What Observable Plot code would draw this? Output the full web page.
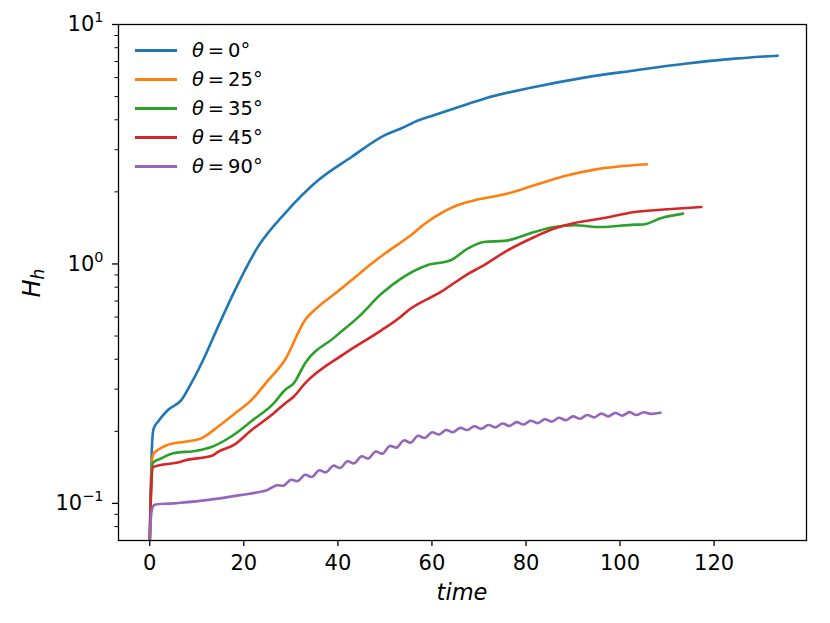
<!DOCTYPE html>
<html>
<head>
<meta charset="utf-8">
<script src="https://cdn.jsdelivr.net/npm/d3@7"></script>
<script src="https://cdn.jsdelivr.net/npm/@observablehq/plot@0.6"></script>
<style>
  body { margin: 0; background: white; }
  #wrap { position: relative; width: 830px; height: 623px; font-family: "DejaVu Sans", sans-serif; }
  #legend { position: absolute; left: 135px; top: 36px; font-size: 19.5px; color: black; }
  #legend .row { display: flex; align-items: center; height: 29px; }
  #legend .sw { width: 42px; height: 2.6px; margin-right: 15px; }
</style>
</head>
<body>
<div id="wrap"><div id="legend"></div></div>
<script>
// ---- data ----
const seriesNames = ["θ = 0°", "θ = 25°", "θ = 35°", "θ = 45°", "θ = 90°"];
const seriesColors = ["#1f77b4", "#ff7f0e", "#2ca02c", "#d62728", "#9467bd"];

const t0 = [0, 0.2, 0.4, 0.7, 1.0, 1.7, 3.8, 6.7, 8.8, 12, 14.5, 18.1, 23, 28.7, 35.8, 42.9, 50, 53.3, 57.2, 60.4, 67.8, 71.1, 81.8, 92.4, 103.1, 113.8, 124.4, 133.5];
const h0 = [0.07, 0.11, 0.16, 0.20, 0.209, 0.219, 0.245, 0.270, 0.317, 0.423, 0.546, 0.776, 1.178, 1.623, 2.236, 2.797, 3.45, 3.67, 3.98, 4.18, 4.67, 4.90, 5.48, 6.00, 6.43, 6.86, 7.20, 7.41];

const t25 = [0, 0.3, 0.7, 1.7, 3.6, 7.4, 10.7, 14.5, 18.1, 21.6, 25.2, 28.7, 33, 35.8, 39.4, 42.9, 47.2, 50, 55, 59, 65.4, 69.7, 75.4, 81.8, 88.9, 94.6, 105.7];
const h25 = [0.07, 0.125, 0.16, 0.167, 0.175, 0.181, 0.186, 0.209, 0.2375, 0.270, 0.327, 0.396, 0.582, 0.662, 0.752, 0.855, 1.004, 1.105, 1.296, 1.497, 1.758, 1.857, 1.954, 2.13, 2.345, 2.477, 2.607];

const t35 = [0, 0.3, 0.7, 2.4, 5, 10, 13.1, 17.8, 21.8, 26.3, 28.7, 30.6, 33, 39.4, 44.4, 49.3, 53.5, 59, 64, 67.6, 71.1, 75.4, 81.8, 86, 90.3, 96, 103.1, 104.9, 108.8, 113.4];
const h35 = [0.07, 0.12, 0.148, 0.154, 0.162, 0.166, 0.172, 0.193, 0.222, 0.261, 0.297, 0.317, 0.384, 0.496, 0.601, 0.752, 0.871, 0.988, 1.036, 1.159, 1.236, 1.248, 1.36, 1.426, 1.45, 1.426, 1.459, 1.462, 1.556, 1.623];

const t45 = [0, 0.3, 0.7, 6.4, 7.4, 13.5, 14.5, 17.8, 21.6, 26.3, 28.7, 30.6, 33, 41.5, 49.3, 53.3, 55, 61.9, 67.8, 70.4, 76.1, 81.8, 86, 90.3, 96, 103.1, 110.2, 117.3];
const h45 = [0.07, 0.115, 0.142, 0.149, 0.151, 0.159, 0.164, 0.175, 0.202, 0.2375, 0.261, 0.279, 0.317, 0.423, 0.529, 0.601, 0.641, 0.764, 0.912, 0.972, 1.14, 1.296, 1.405, 1.483, 1.547, 1.648, 1.691, 1.729];

const t90 = [0, 0.2, 0.5, 0.9, 5, 12.1, 19.2, 24.9,
  27, 28.5, 30, 31.5, 33, 34.5, 36, 37.5, 39, 40.5, 42, 43.5, 45, 46.5, 48, 49.5,
  51, 52.5, 54, 55.5, 57, 58.5, 60, 61.5, 63, 64.5, 66, 67.5, 69, 70.5, 72, 73.5,
  75, 76.5, 78, 79.5, 81, 82.5, 84, 85.5, 87, 88.5, 90, 91.5, 93, 94.5, 96, 97.5,
  99, 100.5, 102, 103.5, 105, 106.5, 108.6];
const h90 = [0.07, 0.085, 0.095, 0.0984, 0.100, 0.1032, 0.1083, 0.1136,
  0.1190, 0.1188, 0.1255, 0.1240, 0.1316, 0.1290, 0.1375, 0.1348, 0.1437, 0.1405, 0.1500, 0.1470, 0.1572, 0.1540, 0.1646, 0.1612,
  0.1737, 0.1710, 0.1832, 0.1795, 0.1915, 0.1875, 0.1983, 0.1940, 0.2025, 0.1985, 0.2067, 0.2025, 0.2099, 0.2050, 0.2126, 0.2077,
  0.2155, 0.2106, 0.2185, 0.2135, 0.2215, 0.2164, 0.2246, 0.2195, 0.2278, 0.2226, 0.2309, 0.2257, 0.2341, 0.2287, 0.2372, 0.2310,
  0.2388, 0.2326, 0.2405, 0.2340, 0.2404, 0.2365, 0.2390];

const xTicks = [0, 20, 40, 60, 80, 100, 120];
const yMajorTicks = [0.1, 1, 10];
const yMinorTicks = [0.08, 0.09, 0.2, 0.3, 0.4, 0.5, 0.6, 0.7, 0.8, 0.9, 2, 3, 4, 5, 6, 7, 8, 9];
const xLabel = "time";

// ---- build table ----
const ts = [t0, t25, t35, t45, t90];
const hs = [h0, h25, h35, h45, h90];
const rows = [];
seriesNames.forEach((name, i) => {
  ts[i].forEach((t, j) => rows.push({series: name, t, h: hs[i][j]}));
});
const smoothRows = rows.filter(r => r.series !== seriesNames[4]);
const wavyRows = rows.filter(r => r.series === seriesNames[4]);

const plot = Plot.plot({
  width: 830,
  height: 623,
  marginLeft: 118,
  marginRight: 24,
  marginTop: 24,
  marginBottom: 83,
  style: {fontFamily: "DejaVu Sans", fontSize: "21px", color: "black", background: "white", overflow: "visible"},
  x: {domain: [-6.65, 139.65]},
  y: {type: "log", domain: [0.07, 10]},
  color: {domain: seriesNames, range: seriesColors},
  marks: [
    Plot.axisX(xTicks, {tickSize: 6, tickPadding: 9, label: null, strokeWidth: 1.3}),
    Plot.axisY(yMajorTicks, {tickSize: 6, tickPadding: 9, label: null, strokeWidth: 1.3,
      tickFormat: d => "10^" + Math.round(Math.log10(d))}),
    Plot.axisY(yMinorTicks, {tickSize: 3.5, label: null, strokeWidth: 1, tickFormat: () => ""}),
    Plot.line(smoothRows, {x: "t", y: "h", z: "series", stroke: "series", strokeWidth: 2.6, curve: "monotone-x", clip: true}),
    Plot.line(wavyRows, {x: "t", y: "h", z: "series", stroke: "series", strokeWidth: 2.6, curve: "catmull-rom", clip: true}),
    Plot.frame({stroke: "black", strokeWidth: 1.3})
  ]
});

const svg = d3.select(plot);
// superscript tick labels
svg.selectAll('g[aria-label="y-axis tick label"] text').each(function() {
  const s = this.textContent;
  if (!s.includes("^")) return;
  const [b, e] = s.split("^");
  const sel = d3.select(this);
  sel.text(b);
  sel.append("tspan").attr("dy", "-9").attr("font-size", "14.5px").text(e.replace("-", "−"));
});
// axis labels
svg.append("text")
  .attr("x", 462).attr("y", 600)
  .attr("text-anchor", "middle")
  .attr("font-style", "italic")
  .attr("font-size", "22.5px")
  .attr("fill", "black")
  .text(xLabel);
const yl = svg.append("text")
  .attr("transform", "translate(40,283) rotate(-90)")
  .attr("text-anchor", "middle")
  .attr("font-style", "italic")
  .attr("font-size", "24px")
  .attr("fill", "black");
yl.append("tspan").text("H");
yl.append("tspan").attr("dy", "4").attr("font-size", "17px").text("h");

document.getElementById("wrap").prepend(plot);

// legend
const leg = d3.select("#legend");
seriesNames.forEach((name, i) => {
  const row = leg.append("div").attr("class", "row");
  row.append("div").attr("class", "sw").style("background", seriesColors[i]);
  const [lhs, rhs] = name.split(" = ");
  const sp = row.append("span");
  sp.append("i").text(lhs);
  sp.append("span").text("\u2009=\u2009" + rhs);
});
</script>
</body>
</html>
